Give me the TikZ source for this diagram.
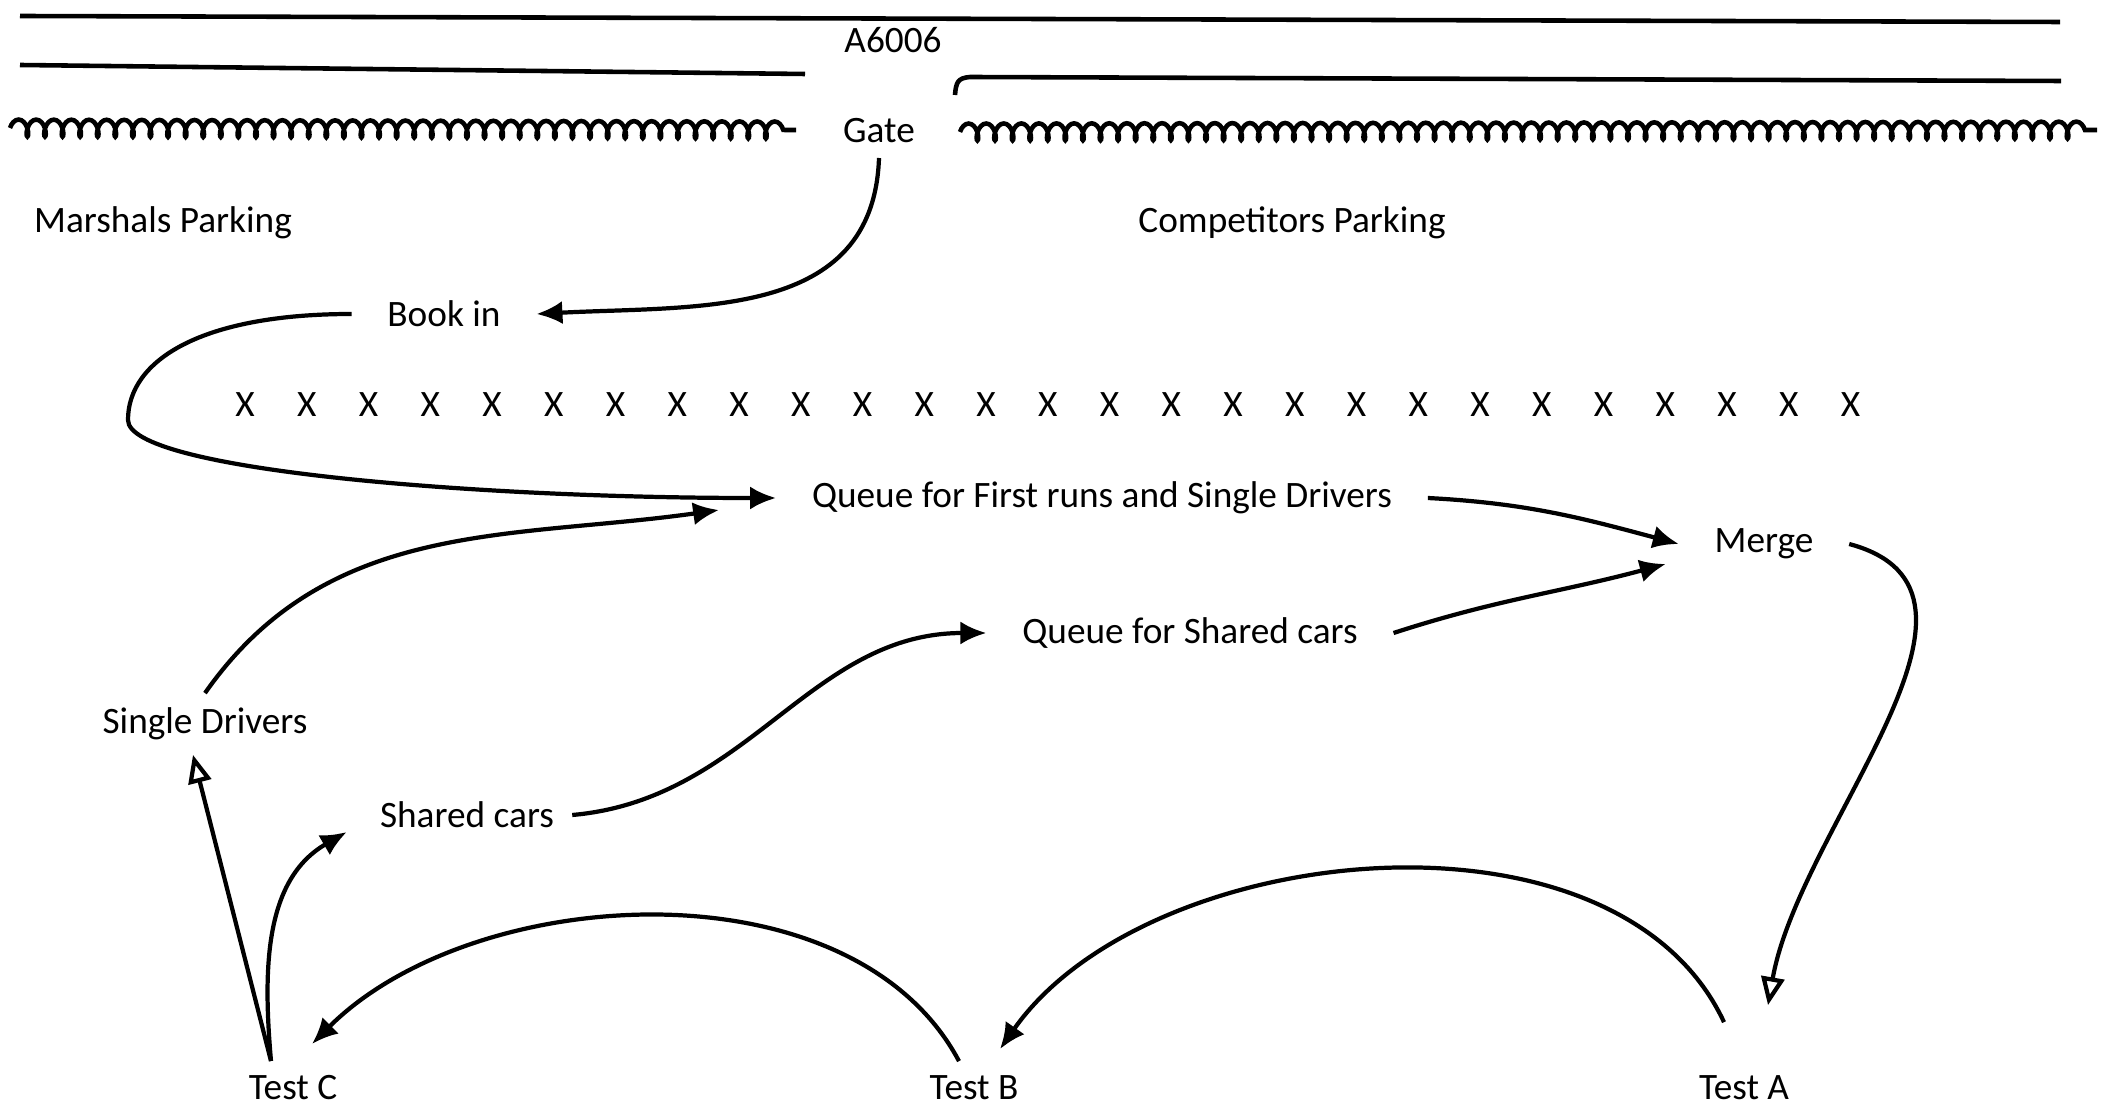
\documentclass[tikz,border=0pt]{standalone}
\usepackage{fontspec}
\setmainfont{Carlito}
\usetikzlibrary{arrows.meta,decorations.pathmorphing}

\tikzset{
  place/.style={inner xsep=10pt, inner ysep=4pt, font=\fontsize{10.6}{12}\selectfont},
  flow/.style={-{Latex[length=2.6mm,width=2.3mm]}, line width=1.2pt},
  back/.style={-{Triangle[open,length=2.8mm,width=2.3mm]}, line width=1.2pt},
  road/.style={line width=1.3pt},
  hedge/.style={line width=1.3pt, decorate, decoration={coil, amplitude=2.4pt, segment length=5pt}},
}

\begin{document}
\begin{tikzpicture}[x=0.01cm, y=0.01cm]
\useasboundingbox (0,0) rectangle (2115,-1110);

% road and hedge
\draw[road] (20,-16) -- (2060,-22);
\draw[road] (20,-65) -- (805,-74);
\draw[road] (955,-95) .. controls (956,-82) and (958,-78) .. (970,-77) -- (2061,-81);
\draw[hedge] (10,-128) -- (796,-130);
\draw[hedge] (960,-132) -- (2097,-130);

\node[place] (a6006) at (893,-40) {A6006};
\node[place] (gate) at (879,-131) {Gate};
\node[place] (marshals) at (163,-223) {Marshals Parking};
\node[place] (competitors) at (1292,-223) {Competitors Parking};
\node[place] (bookin) at (444,-314) {Book in};

% parked cars
\foreach \i in {0,...,26}
  \node[place] (x\i) at ({245+61.75*\i},-405) {X};

\node[place] (qfirst) at (1102,-498) {Queue for First runs and Single Drivers};
\node[place] (merge) at (1764,-544) {Merge};
\node[place] (qshared) at (1190,-633) {Queue for Shared cars};
\node[place] (single) at (205,-724) {Single Drivers};
\node[place, inner xsep=5pt] (shared) at (467,-815) {Shared cars};
\node[place] (testc) at (293,-1088) {Test C};
\node[place] (testb) at (974,-1088) {Test B};
\node[place] (testa) at (1744,-1088) {Test A};
\coordinate (uturn) at (128,-420);

\path[flow]
(gate.south) edge[out=-92, in=3, looseness=1.1] (bookin.east)
(single.north) edge[out=55, in=188] ([shift={(-57,-12)}]qfirst.west)
(qfirst.east) edge[out=-3, in=165] (merge.west)
(qshared.east) edge[out=18, in=195] ([shift={(-13,-20)}]merge.west)
(shared.east) edge[out=5, in=180] (qshared.west)
([shift={(-22,0)}]testc.north) edge[out=95, in=210] ([shift={(-15,-17)}]shared.west)
([shift={(-20,39)}]testa.north) edge[out=115, in=55, looseness=0.9] ([shift={(26,12)}]testb.north)
([shift={(-15,0)}]testb.north) edge[out=118, in=45, looseness=0.9] ([shift={(19,17)}]testc.north)
;
\draw[flow] (bookin.west) .. controls +(-150,0) and +(0,60) .. (uturn)
  .. controls +(0,-50) and +(-300,0) .. (qfirst.west);
\path[back]
(merge.east) edge[out=-15, in=80] ([shift={(24,56)}]testa.north)
([shift={(-22,0)}]testc.north) edge ([shift={(-12,0)}]single.south)
;
\end{tikzpicture}
\end{document}
